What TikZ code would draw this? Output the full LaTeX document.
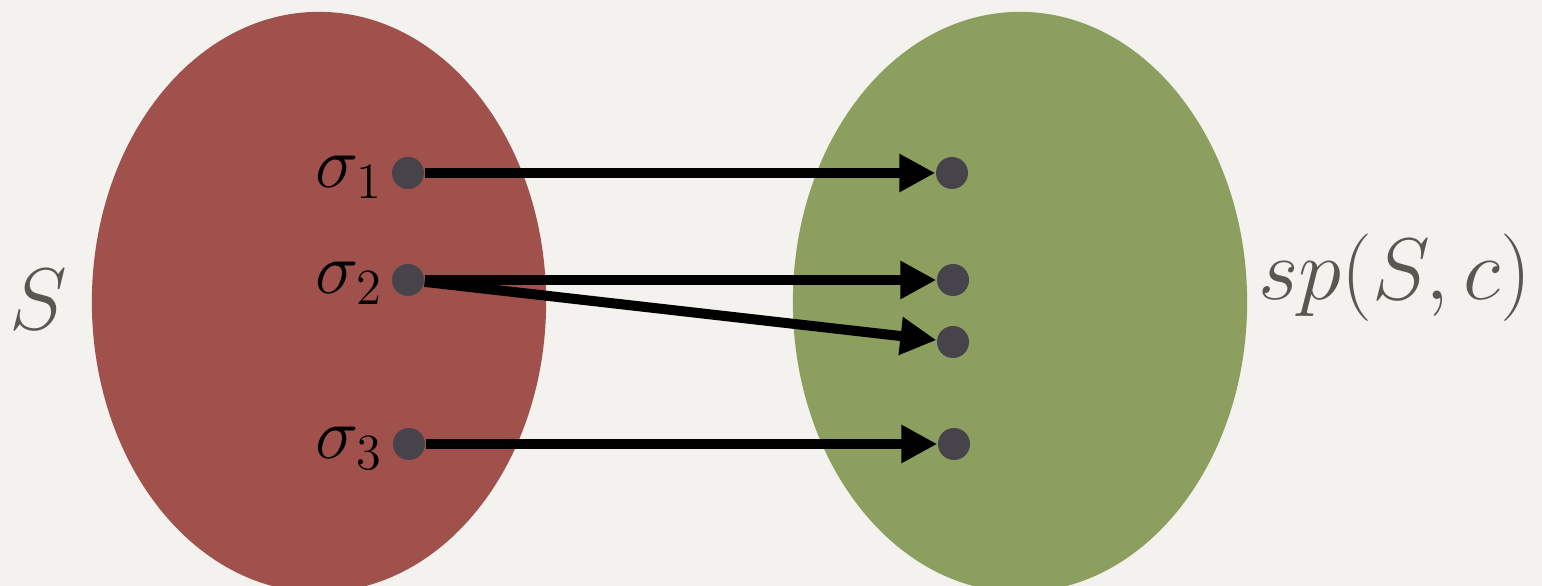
\documentclass[tikz,border=0pt]{standalone}
\usepackage{tikz}
\usetikzlibrary{arrows.meta}
\definecolor{paper}{RGB}{243,242,238}
\definecolor{setred}{RGB}{161,81,76}
\definecolor{setgreen}{RGB}{140,159,95}
\definecolor{dotgray}{RGB}{70,68,74}
\definecolor{labelgray}{RGB}{90,87,82}

\begin{document}
\begin{tikzpicture}[x=0.01cm,y=-0.01cm,
    elt/.style={circle,fill=dotgray,inner sep=0pt,minimum size=0.32cm},
    map/.style={line width=0.1cm,-{Triangle[length=0.36cm,width=0.36cm]}},
    eltname/.style={anchor=east,font=\fontsize{21}{21}\selectfont},
    setname/.style={text=labelgray,font=\fontsize{23}{23}\selectfont}]
  \clip (0,0) rectangle (1542,586);
  \fill[paper] (0,0) rectangle (1542,586);
  \fill[setred] (319,302) ellipse [x radius=2.27cm,y radius=2.9cm];
  \fill[setgreen] (1020,302) ellipse [x radius=2.27cm,y radius=2.9cm];
  \node[elt] (S1) at (408,173) {};
  \node[elt] (S2) at (408,280) {};
  \node[elt] (S3) at (409,444) {};
  \node[elt] (T1) at (952,173) {};
  \node[elt] (T2) at (953,280) {};
  \node[elt] (T3) at (953,342) {};
  \node[elt] (T4) at (954,444) {};
  \node[eltname] (L1) at (395,177) {$\sigma_1$};
  \node[eltname] (L2) at (395,283) {$\sigma_2$};
  \node[eltname] (L3) at (395,448) {$\sigma_3$};
  \node[setname] (S) at (38,300) {$S$};
  \node[setname] (SP) at (1395,278) {$sp(S,c)$};
  \path[map]
    (S1) edge (T1)
    (S2) edge (T2)
    (S2) edge (T3)
    (S3) edge (T4);
\end{tikzpicture}
\end{document}
